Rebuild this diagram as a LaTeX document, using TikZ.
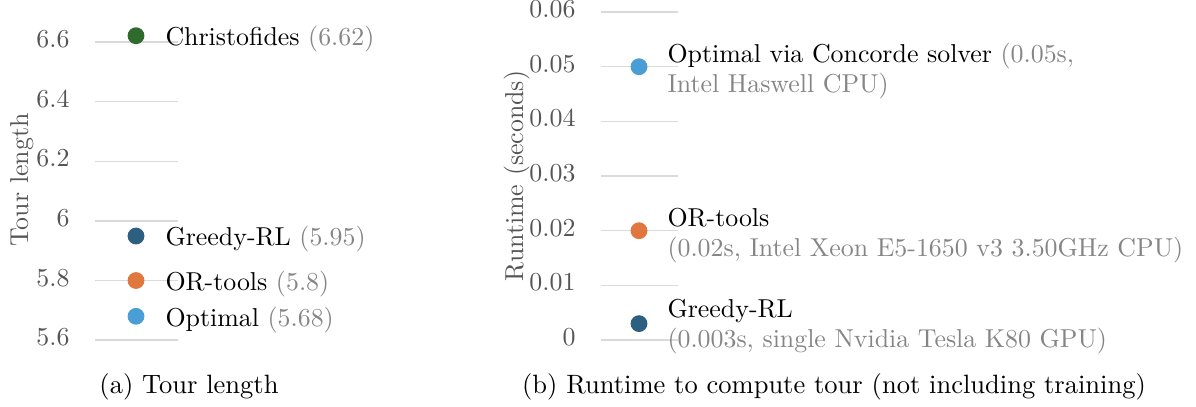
\documentclass[tikz,border=0pt]{standalone}
\usepackage{xcolor}
\definecolor{christo}{HTML}{2F6B2C}
\definecolor{greedy}{HTML}{2D5F80}
\definecolor{ortools}{HTML}{E0773F}
\definecolor{optimal}{HTML}{4A9ED6}
\definecolor{gridgray}{HTML}{DADADA}
\definecolor{ticktext}{HTML}{555555}
\definecolor{valtext}{HTML}{858585}
\begin{document}
\begin{tikzpicture}[x=0.3922pt,y=-0.3922pt,
  chartfont/.style={font=\fontsize{10.15}{12}\selectfont},
  gridline/.style={draw=gridgray,line width=0.6pt},
  ticklbl/.style={chartfont,anchor=base east,inner sep=0pt,text=ticktext},
  axislbl/.style={chartfont,anchor=base,rotate=90,inner sep=0pt,text=ticktext},
  dot/.style={circle,inner sep=0pt,minimum size=6.6pt},
  lbl/.style={chartfont,anchor=base west,inner sep=0pt,text=black},
  detail/.style={chartfont,anchor=base west,inner sep=0pt,text=valtext},
  caption/.style={font=\fontsize{10.4}{12.5}\selectfont,anchor=base,inner sep=0pt,text=black}]
\useasboundingbox (0,0) rectangle (1196,406);

% ---------- (a) tour length ----------
\foreach \v/\y in {6.6/42,6.4/101.7,6.2/161.4,6/221,5.8/280.5,5.6/340}{
  \draw[gridline] (95,\y) -- (178,\y);
  \node[ticklbl] at (70,\y+5.5) {\v};
}
\node[axislbl] (ylenA) at (28,180) {Tour length};

\node[dot,fill=christo] (dchr) at (136,35.7) {};
\node[dot,fill=greedy]  (dgrA) at (136,236) {};
\node[dot,fill=ortools] (dorA) at (136,280.5) {};
\node[dot,fill=optimal] (dopA) at (136,316.3) {};

\node[lbl] (tchr) at (165,45) {Christofides \textcolor{valtext}{(6.62)}};
\node[lbl] (tgrA) at (165,245.5) {Greedy-RL \textcolor{valtext}{(5.95)}};
\node[lbl] (torA) at (165,290) {OR-tools \textcolor{valtext}{(5.8)}};
\node[lbl] (topA) at (165,326) {Optimal \textcolor{valtext}{(5.68)}};

\node[caption] (capA) at (189,393) {(a) Tour length};

% ---------- (b) runtime ----------
\foreach \v/\y in {0.06/12,0.05/66.7,0.04/121.3,0.03/176,0.02/230.7,0.01/285.3,0/340}{
  \draw[gridline] (601,\y) -- (678,\y);
  \node[ticklbl] at (576,\y+5.5) {\v};
}
\node[axislbl] (ylenB) at (523,176) {Runtime (seconds)};

\node[dot,fill=optimal] (dopB) at (639,66.7) {};
\node[dot,fill=ortools] (dorB) at (639,230.7) {};
\node[dot,fill=greedy]  (dgrB) at (639,323.6) {};

\node[lbl] (topB) at (667,62) {Optimal via Concorde solver \textcolor{valtext}{(0.05s,}};
\node[detail] (topB2) at (667,92) {Intel Haswell CPU)};
\node[lbl] (torB) at (667,226) {OR-tools};
\node[detail] (torB2) at (667,256) {(0.02s, Intel Xeon E5-1650 v3 3.50GHz CPU)};
\node[lbl] (tgrB) at (667,317.5) {Greedy-RL};
\node[detail] (tgrB2) at (667,347.5) {(0.003s, single Nvidia Tesla K80 GPU)};

\node[caption] (capB) at (834,393) {(b) Runtime to compute tour (not including training)};
\end{tikzpicture}
\end{document}
